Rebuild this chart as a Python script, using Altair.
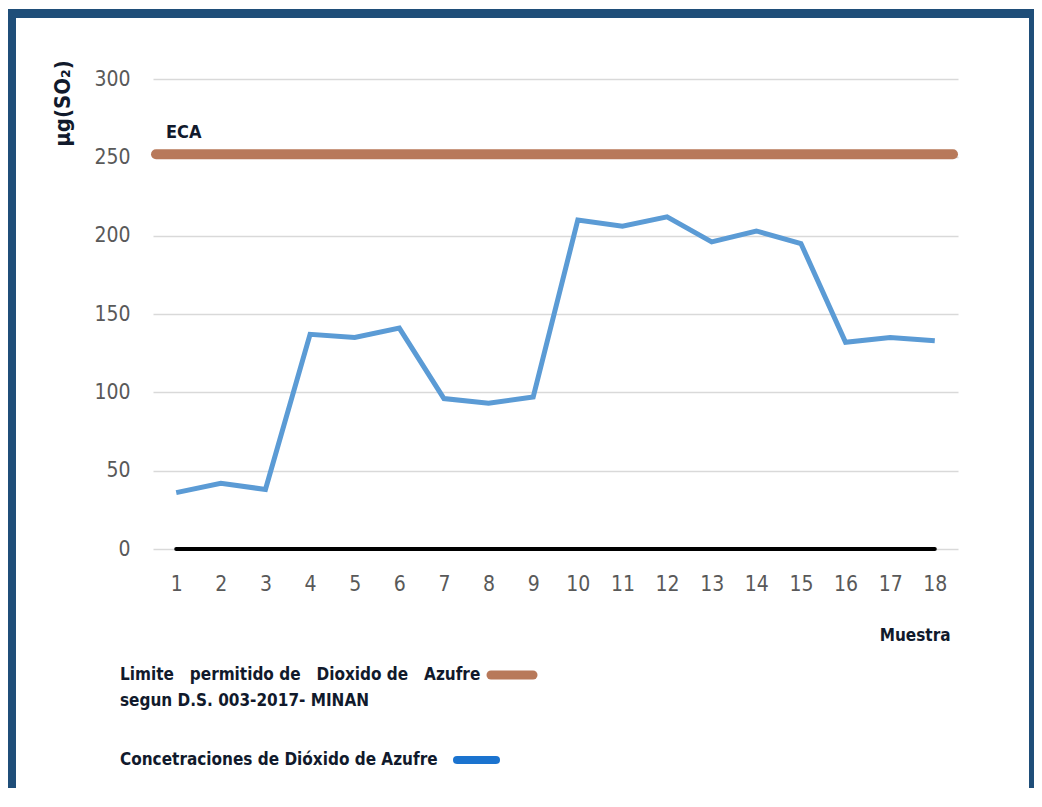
import altair as alt
import pandas as pd

# ---- data ----
samples = [1, 2, 3, 4, 5, 6, 7, 8, 9, 10, 11, 12, 13, 14, 15, 16, 17, 18]
so2 = [36, 42, 38, 137, 135, 141, 96, 93, 97, 210, 206, 212, 196, 203, 195, 132, 135, 133]
eca_limit = 252
y_ticks = [0, 50, 100, 150, 200, 250, 300]
NB = "\u00a0"
legend_eca_1 = f"Limite {NB}{NB}permitido de {NB}{NB}Dioxido de {NB}{NB}Azufre"
legend_eca_2 = "segun D.S. 003-2017- MINAN"
legend_so2 = "Concetraciones de Dióxido de Azufre"

FONT = "Liberation Sans Narrow, DejaVu Sans Condensed, Arial Narrow, sans-serif"
DARK = "#111a2c"
BROWN = "#b8795a"
LINE_BLUE = "#5b9bd5"
SWATCH_BLUE = "#1b73cf"
FRAME = "#1f4e79"
W, H = 805, 470

df = pd.DataFrame({"Muestra": samples, "SO2": so2})
one = pd.DataFrame({"k": [0]})

x_enc = alt.X(
    "Muestra:O",
    scale=alt.Scale(type="point", padding=0.52),
    axis=alt.Axis(
        labelAngle=0, ticks=False, domain=False, grid=False,
        labelPadding=24, labelFontSize=21, labelColor="#595959", labelFont=FONT,
        title="Muestra", titleX=797, titleY=86, titleAlign="right",
        titleBaseline="middle", titleFont=FONT, titleFontSize=17,
        titleFontWeight="bold", titleColor=DARK,
    ),
)
y_enc = alt.Y(
    "SO2:Q",
    scale=alt.Scale(domain=[0, 300], nice=False),
    axis=alt.Axis(
        values=y_ticks, ticks=False, domain=False,
        gridColor="#d9d9d9", gridWidth=1.5,
        labelPadding=23, labelFontSize=21, labelColor="#595959", labelFont=FONT,
        title="µg(SO₂)", titleX=-91, titleY=24, titleAngle=270,
        titleAlign="center", titleBaseline="middle", titleFont=FONT,
        titleFontSize=22, titleFontWeight="bold", titleColor=DARK,
    ),
)

# frame
def bar(x1, x2, y1, y2):
    return alt.Chart(one).mark_rect(color=FRAME).encode(
        x=alt.value(x1), x2=alt.value(x2), y=alt.value(y1), y2=alt.value(y2)
    )

frame = bar(-145, -137, -70, 709) + bar(-145, 881, -70, -61) + bar(876, 881, -70, 709)

line = alt.Chart(df).mark_line(color=LINE_BLUE, strokeWidth=5).encode(x=x_enc, y=y_enc)

baseline = alt.Chart(df).mark_line(color="black", strokeWidth=4, strokeCap="round").encode(
    x="Muestra:O", y=alt.datum(0)
)

eca = alt.Chart(one).mark_rule(color=BROWN, strokeWidth=10, strokeCap="round").encode(
    y=alt.datum(eca_limit), x=alt.value(3), x2=alt.value(W - 5)
)
eca_text = alt.Chart(one).mark_text(
    text="ECA", align="left", baseline="middle", dy=-21,
    font=FONT, fontSize=18, fontWeight="bold", color=DARK
).encode(x=alt.value(13), y=alt.datum(eca_limit))

def label(txt, xv, yv):
    return alt.Chart(one).mark_text(
        text=txt, align="left", baseline="middle",
        font=FONT, fontSize=17, fontWeight="bold", color=DARK
    ).encode(x=alt.value(xv), y=alt.value(yv))

def swatch(color, x1, x2, yv, w):
    return alt.Chart(one).mark_rule(color=color, strokeWidth=w, strokeCap="round").encode(
        x=alt.value(x1), x2=alt.value(x2), y=alt.value(yv)
    )

legend = (
    label(legend_eca_1, -33, 596)
    + label(legend_eca_2, -33, 622)
    + label(legend_so2, -33, 681)
    + swatch(BROWN, 338, 380, 596, 9)
    + swatch(SWATCH_BLUE, 304, 343, 681, 8)
)

chart = alt.layer(frame, line, eca, baseline, eca_text, legend).properties(
    width=W, height=H,
    autosize="none",
    padding={"left": 145, "top": 71, "right": 76, "bottom": 239},
    background="white",
).configure_view(stroke=None)

chart.save("out.html", embed_options={"renderer": "svg", "actions": False})
